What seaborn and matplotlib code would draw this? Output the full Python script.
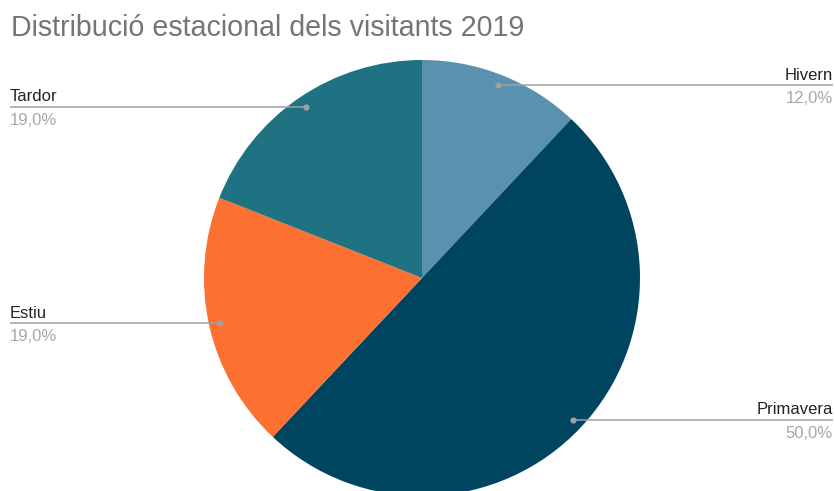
import math

import matplotlib

matplotlib.use("Agg")
import matplotlib.pyplot as plt
import seaborn as sns

# data
seasons = ["Hivern", "Primavera", "Estiu", "Tardor"]
shares = [12.0, 50.0, 19.0, 19.0]
pct_labels = ["12,0%", "50,0%", "19,0%", "19,0%"]
slice_colors = ["#5991af", "#00455f", "#fc7032", "#1e7282"]
title = "Distribució estacional dels visitants 2019"

W, H = 835, 491

sns.set_theme(style="white")
plt.rcParams["font.family"] = ["Liberation Sans", "DejaVu Sans"]

fig = plt.figure(figsize=(W / 100, H / 100), dpi=100)
ax = fig.add_axes([0, 0, 1, 1])

# work in pixel units, y pointing up
cx, cy, r = 422, H - 278, 218
wedges, _ = ax.pie(
    shares,
    colors=slice_colors,
    startangle=90,
    counterclock=False,
    center=(cx, cy),
    radius=r,
    wedgeprops=dict(linewidth=0),
)
ax.set_xlim(0, W)
ax.set_ylim(0, H)
ax.set_aspect("equal")
ax.axis("off")

line_col = "#a0a0a0"
for w, name, pct in zip(wedges, seasons, pct_labels):
    mid = math.radians((w.theta1 + w.theta2) / 2)
    dx = cx + 0.95 * r * math.cos(mid)
    dy = cy + 0.95 * r * math.sin(mid)
    right = math.cos(mid) > 0
    x_end = 833 if right else 10
    ax.plot([dx, x_end], [dy, dy], color=line_col, lw=1.1, solid_capstyle="butt")
    ax.plot(dx, dy, "o", ms=4.5, color=line_col, mec="none")
    ha = "right" if right else "left"
    ax.text(x_end, dy + 5.5, name, ha=ha, va="baseline", fontsize=12, color="#222222")
    ax.text(x_end, dy - 18, pct, ha=ha, va="baseline", fontsize=12, color="#a6a6a6")

ax.text(11, H - 36, title, ha="left", va="baseline", fontsize=20.6, color="#757575")

fig.savefig("out.png", dpi=100)
plt.close(fig)
